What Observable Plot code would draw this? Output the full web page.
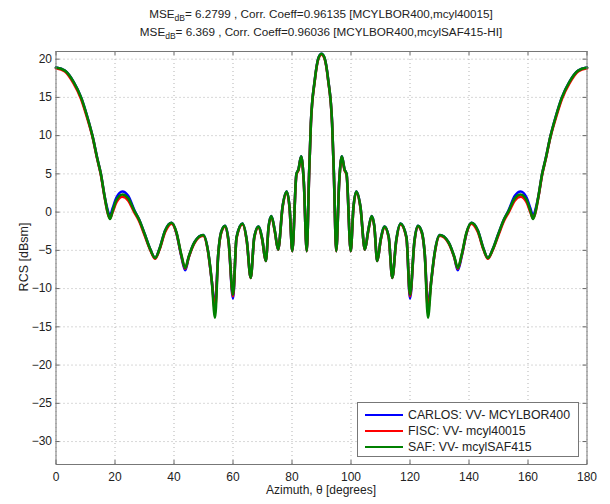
<!DOCTYPE html>
<html><head><meta charset="utf-8">
<script src="https://cdn.jsdelivr.net/npm/d3@7"></script>
<script src="https://cdn.jsdelivr.net/npm/@observablehq/plot@0.6"></script>
<style>
body{margin:0;background:#fff;}
#wrap{position:relative;width:610px;height:504px;font-family:"Liberation Sans",Arial,sans-serif;color:#222;}
.t{position:absolute;left:55px;width:532px;text-align:center;font-size:11.7px;line-height:13px;white-space:nowrap;}
.t sub{font-size:8.5px;vertical-align:-3px;line-height:0;}
#xl{position:absolute;left:55px;width:532px;top:483px;text-align:center;font-size:12px;line-height:14px;}
#yl{position:absolute;left:24px;top:257px;transform:translate(-50%,-50%) rotate(-90deg);font-size:12.5px;white-space:nowrap;}
#chart{position:absolute;left:0;top:40px;}
#leg{position:absolute;left:357px;top:402px;width:222px;height:55px;background:#fff;border:1px solid #777;box-sizing:border-box;font-size:12.3px;}
.row{position:absolute;left:7px;height:14px;display:flex;align-items:center;}
.row span.l{display:inline-block;width:38px;height:0;border-top:2.5px solid;margin-right:5px;}
</style></head>
<body><div id="wrap">
<div class="t" style="top:7px">MSE<sub>dB</sub>= 6.2799 , Corr. Coeff=0.96135 [MCYLBOR400,mcyl40015]</div>
<div class="t" style="top:25px">MSE<sub>dB</sub>= 6.369 , Corr. Coeff=0.96036 [MCYLBOR400,mcylSAF415-HI]</div>
<div id="chart"></div>
<div id="yl">RCS [dBsm]</div>
<div id="xl">Azimuth, θ [degrees]</div>
<div id="leg"></div>
</div>
<script>
const xTicks = [0,20,40,60,80,100,120,140,160,180];
const yTicks = [20,15,10,5,0,-5,-10,-15,-20,-25,-30];
const seriesNames = ["CARLOS: VV- MCYLBOR400","FISC: VV- mcyl40015","SAF: VV- mcylSAF415"];
const seriesColors = ["#0000ff","#ff0000","#008000"];

const azimuth = [0,3,6,8.5,10.5,12.4,14,15.2,16.5,17.5,18.3,19.2,20.5,22.5,24.5,26.5,28.2,30,32,33.6,35,37,39.2,40.8,42.5,43.8,45,47,49.9,51.5,52.8,53.9,55,56,57.3,58.5,60,61.2,63.2,64.7,66,67.2,68.6,69.9,71.1,72.1,73,74.2,75.3,76.8,78.2,79.2,80.1,81.5,82.2,83.1,84,85,85.8,86.4,87.7,89,90,91,92.3,93.6,94.2,95,96,96.9,97.8,98.5,99.9,100.8,101.8,103.2,104.7,105.8,107,107.9,108.9,110.1,111.4,112.8,114,115.3,116.8,118.8,120,121.5,122.7,124,125,126.1,127.2,128.5,130.1,133,135,136.2,137.5,139.2,140.8,143,145,146.4,148,150,151.8,153.5,155.5,157.5,159.5,160.8,161.7,162.5,163.5,164.8,166,167.6,169.5,171.5,174,177,180];

const rcsSaf = [18.9,18.5,17.0,15.0,12.6,9.9,7.0,5.0,2.0,0.0,-0.9,0.2,1.6,2.3,1.8,0.2,-1.0,-2.8,-4.9,-6.0,-4.9,-2.4,-1.4,-2.6,-5.6,-7.3,-5.8,-3.9,-3.0,-5.0,-9.0,-13.8,-5.5,-2.6,-1.8,-3.8,-10.8,-3.3,-1.5,-3.8,-8.6,-3.3,-1.9,-3.5,-6.4,-1.8,-0.5,-2.5,-4.9,0.7,2.7,0.5,-5.1,5.0,5.6,7.3,4.0,-5.1,5.0,11.6,17.2,20.2,20.7,20.2,17.2,11.6,5.0,-5.1,4.0,7.3,5.6,5.0,-5.1,0.5,2.7,0.7,-4.9,-2.5,-0.5,-1.8,-6.4,-3.5,-1.9,-3.3,-8.6,-3.8,-1.5,-3.3,-10.8,-3.8,-1.8,-2.6,-5.5,-13.8,-9.0,-5.0,-3.0,-3.9,-5.8,-7.3,-5.6,-2.6,-1.4,-2.4,-4.9,-6.0,-4.9,-2.8,-1.0,0.2,1.8,2.3,1.6,0.2,-0.9,0.0,2.0,5.0,7.0,9.9,12.6,15.0,17.0,18.5,18.9];

const rcsCarlos = [18.9,18.5,17.0,15.0,12.6,9.9,7.0,5.0,2.0,0.3,-0.5,0.5,1.9,2.7,2.1,0.3,-1.0,-2.8,-4.9,-6.0,-4.9,-2.4,-1.4,-2.7,-5.8,-7.6,-5.9,-3.9,-3.0,-5.0,-9.0,-12.2,-5.5,-2.6,-1.8,-3.8,-11.3,-3.3,-1.5,-3.8,-8.6,-3.3,-1.9,-3.5,-6.4,-1.8,-0.5,-2.5,-4.9,0.7,2.7,0.5,-5.1,5.0,5.6,7.3,4.0,-5.1,5.0,11.6,17.2,20.2,20.7,20.2,17.2,11.6,5.0,-5.1,4.0,7.3,5.6,5.0,-5.1,0.5,2.7,0.7,-4.9,-2.5,-0.5,-1.8,-6.4,-3.5,-1.9,-3.3,-8.6,-3.8,-1.5,-3.3,-11.3,-3.8,-1.8,-2.6,-5.5,-12.2,-9.0,-5.0,-3.0,-3.9,-5.9,-7.6,-5.8,-2.7,-1.4,-2.4,-4.9,-6.0,-4.9,-2.8,-1.0,0.3,2.1,2.7,1.9,0.5,-0.5,0.3,2.0,5.0,7.0,9.9,12.6,15.0,17.0,18.5,18.9];

const rcsFisc = [18.8,18.4,16.8,14.8,12.4,9.8,6.9,4.9,1.9,-0.1,-0.8,0.0,1.3,2.0,1.5,0.0,-1.2,-3.0,-5.0,-6.1,-5.0,-2.6,-1.5,-2.7,-5.7,-7.4,-5.9,-4.0,-3.1,-5.1,-9.0,-12.8,-5.5,-2.7,-1.9,-3.9,-11.0,-3.4,-1.6,-3.9,-8.6,-3.4,-2.0,-3.6,-6.4,-1.9,-0.6,-2.6,-4.9,0.6,2.6,0.4,-5.1,4.9,5.5,7.2,3.9,-5.1,4.9,11.5,17.1,20.1,20.6,20.1,17.1,11.5,4.9,-5.1,3.9,7.2,5.5,4.9,-5.1,0.4,2.6,0.6,-4.9,-2.6,-0.6,-1.9,-6.4,-3.6,-2.0,-3.4,-8.6,-3.9,-1.6,-3.4,-11.0,-3.9,-1.9,-2.7,-5.5,-12.8,-9.0,-5.1,-3.1,-4.0,-5.9,-7.4,-5.7,-2.7,-1.5,-2.6,-5.0,-6.1,-5.0,-3.0,-1.2,0.0,1.5,2.0,1.3,0.0,-0.8,-0.1,1.9,4.9,6.9,9.8,12.4,14.8,16.8,18.4,18.8];

const seriesValues = [rcsCarlos, rcsFisc, rcsSaf];
const rows = seriesValues.map(vals => azimuth.map((a, i) => ({a, v: vals[i]})));

const W = 610, H = 464, mT = 11, mB = 40, mL = 55.5, mR = 23.5;
const innerH = H - mT - mB;
const innerW = W - mL - mR;
const grid = {stroke: "#888", strokeOpacity: 0.8, strokeDasharray: "1,3", strokeWidth: 0.8};

const chart = Plot.plot({
  width: W, height: H, marginTop: mT, marginBottom: mB, marginLeft: mL, marginRight: mR,
  style: {fontFamily: "'Liberation Sans', Arial, sans-serif", fontSize: "12px", color: "#222", background: "transparent"},
  x: {domain: [0, 180], label: null},
  y: {domain: [-33, 21], label: null},
  marks: [
    Plot.gridX(xTicks, grid),
    Plot.gridY(yTicks, grid),
    Plot.tickX(xTicks, {x: d => d, stroke: "#666", insetTop: innerH - 4}),
    Plot.tickX(xTicks, {x: d => d, stroke: "#666", insetBottom: innerH - 4}),
    Plot.tickY(yTicks, {y: d => d, stroke: "#666", insetRight: innerW - 4}),
    Plot.tickY(yTicks, {y: d => d, stroke: "#666", insetLeft: innerW - 4}),
    Plot.axisX(xTicks, {tickSize: 0, tickPadding: 8, label: null}),
    Plot.axisY(yTicks, {tickSize: 0, tickPadding: 4, label: null}),
    ...rows.map((r, k) => Plot.lineY(r, {x: "a", y: "v", stroke: seriesColors[k], strokeWidth: 2.6, curve: "monotone-x"})),
    Plot.frame({stroke: "#777", strokeWidth: 1})
  ]
});
document.getElementById("chart").appendChild(chart);

const leg = document.getElementById("leg");
seriesNames.forEach((n, k) => {
  const d = document.createElement("div");
  d.className = "row";
  d.style.top = (5 + k * 16) + "px";
  d.innerHTML = `<span class="l" style="border-color:${seriesColors[k]}"></span><span>${n}</span>`;
  leg.appendChild(d);
});
</script>
</body></html>
